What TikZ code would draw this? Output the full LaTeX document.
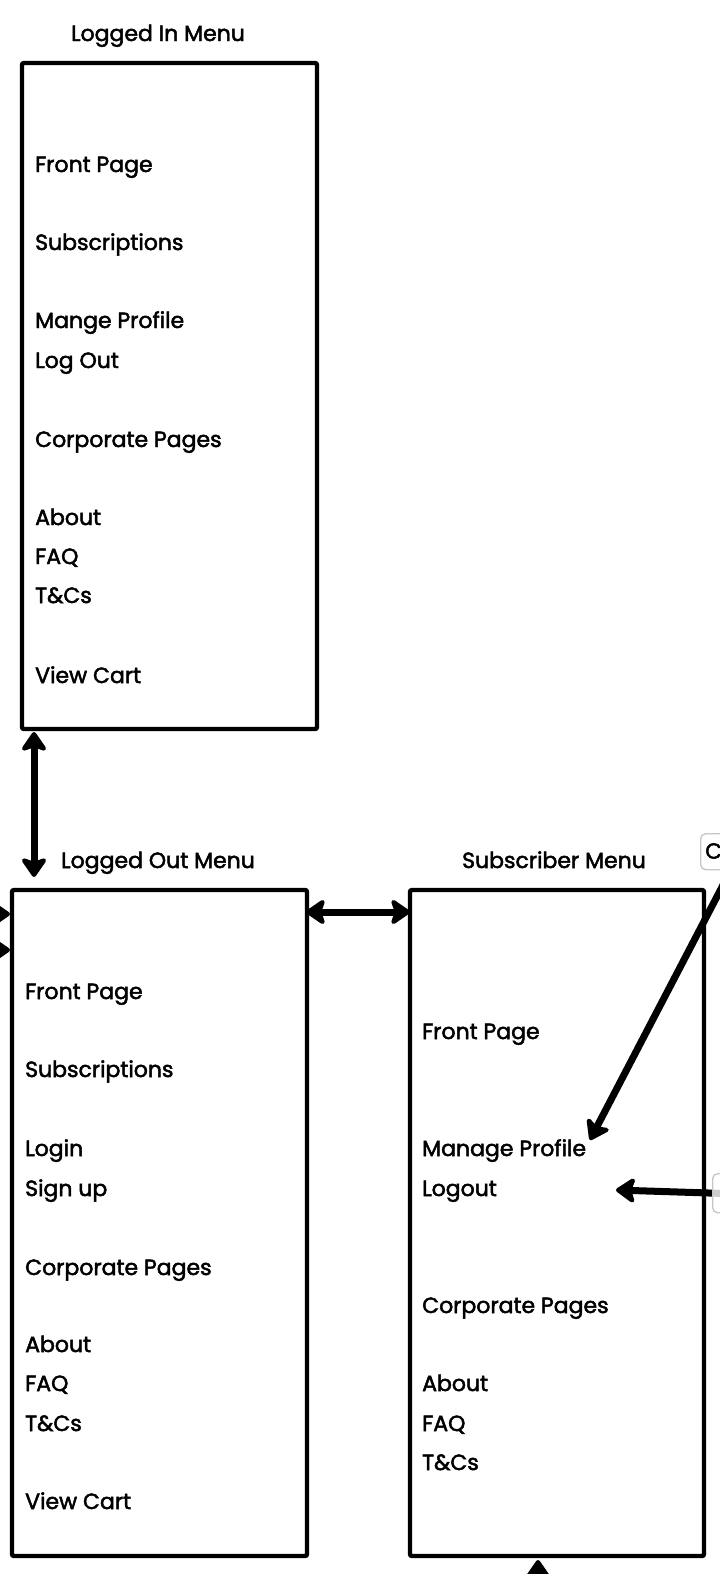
\documentclass[tikz,border=0pt]{standalone}
\usepackage{fontspec}
\setmainfont{Poppins}
\newfontfamily\menufont{Poppins}[FakeBold=2.2]
\usetikzlibrary{arrows.meta}
\begin{document}
\begin{tikzpicture}[x=1pt,y=-1pt,
  menubox/.style={draw=black, line width=4.4pt, rounded corners=2pt, inner sep=0pt},
  itemtext/.style={anchor=base west, inner sep=0pt, font=\menufont\fontsize{22}{26}\selectfont},
  titletext/.style={anchor=base, inner sep=0pt, font=\menufont\fontsize{22}{26}\selectfont},
  tag/.style={draw=black!22, line width=1.4pt, rounded corners=5pt, fill=white, fill opacity=0.8, text opacity=1, inner sep=0pt},
  conn/.style={line width=7pt, >={Stealth[length=22pt,width=30pt,inset=5pt,round]}},
]
\useasboundingbox (0,0) rectangle (720,1574);
\clip (0,0) rectangle (720,1574);
\fill[white] (0,0) rectangle (720,1574);

% --- Logged In Menu ---
\node[titletext] (tin) at (158,41) {Logged In Menu};
\node[menubox, minimum width=295pt, minimum height=666pt] (inbox) at (169.5,396) {};
\node[itemtext] (in1) at (35,172) {Front Page};
\node[itemtext] (in2) at (35,250) {Subscriptions};
\node[itemtext] (in3) at (35,328) {Mange Profile};
\node[itemtext] (in4) at (35,368) {Log Out};
\node[itemtext] (in5) at (35,447) {Corporate Pages};
\node[itemtext] (in6) at (35,525) {About};
\node[itemtext] (in7) at (35,564) {FAQ};
\node[itemtext] (in8) at (35,603) {T\&Cs};
\node[itemtext] (in9) at (35,683) {View Cart};

% --- Logged Out Menu ---
\node[titletext] (tout) at (158,868) {Logged Out Menu};
\node[menubox, minimum width=295pt, minimum height=666pt] (outbox) at (159.5,1223) {};
\node[itemtext] (out1) at (25,999) {Front Page};
\node[itemtext] (out2) at (25,1077) {Subscriptions};
\node[itemtext] (out3) at (25,1156) {Login};
\node[itemtext] (out4) at (25,1196) {Sign up};
\node[itemtext] (out5) at (25,1275) {Corporate Pages};
\node[itemtext] (out6) at (25,1352) {About};
\node[itemtext] (out7) at (25,1391) {FAQ};
\node[itemtext] (out8) at (25,1431) {T\&Cs};
\node[itemtext] (out9) at (25,1509) {View Cart};

% --- Subscriber Menu ---
\node[titletext] (tsub) at (554,868) {Subscriber Menu};
\node[menubox, minimum width=294pt, minimum height=666pt] (subbox) at (557,1223) {};
\node[itemtext] (sub1) at (422,1039) {Front Page};
\node[itemtext] (sub2) at (422,1156) {Manage Profile};
\node[itemtext] (sub3) at (422,1196) {Logout};
\node[itemtext] (sub4) at (422,1313) {Corporate Pages};
\node[itemtext] (sub5) at (422,1391) {About};
\node[itemtext] (sub6) at (422,1431) {FAQ};
\node[itemtext] (sub7) at (422,1470) {T\&Cs};

% --- labels at the right edge ---
\node[tag, minimum width=40pt, minimum height=36pt, anchor=north west] (tagc) at (700,833) {};
\node[anchor=west, inner sep=0pt, font=\menufont\fontsize{22}{26}\selectfont] (tagctext) at (705,851) {C};

% --- connector end points ---
\coordinate (vtop) at (34,732);
\coordinate (vbot) at (34,877);
\coordinate (hleft) at (306,912);
\coordinate (hright) at (410,912);
\coordinate (dstart) at (735,862);
\coordinate (dend) at (590,1140);
\coordinate (lstart) at (740,1194);
\coordinate (lend) at (616,1190);
\coordinate (e1s) at (-60,914);
\coordinate (e1e) at (10,914);
\coordinate (e2s) at (-60,950);
\coordinate (e2e) at (10,950);
\coordinate (bs) at (538,1640);
\coordinate (be) at (538,1560);

% --- connectors ---
\draw[conn,<->] (vtop) -- (vbot);
\draw[conn,<->] (hleft) -- (hright);
\draw[conn,->] (dstart) -- (dend);
\draw[conn,->] (lstart) -- (lend);
\draw[conn,->] (e1s) -- (e1e);
\draw[conn,->] (e2s) -- (e2e);
\draw[conn,->] (bs) -- (be);

% label box sitting over the incoming Logout connector
\node[tag, minimum width=40pt, minimum height=39pt, anchor=north west] (tagr) at (712,1173) {};
\end{tikzpicture}
\end{document}
